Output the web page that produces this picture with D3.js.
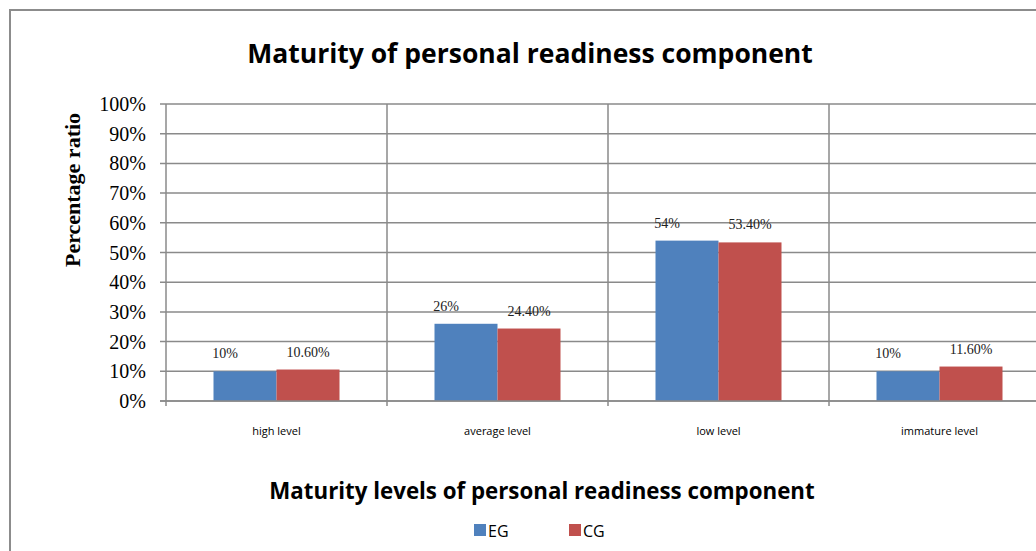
<!DOCTYPE html>
<html><head><meta charset="utf-8">
<script src="https://cdn.jsdelivr.net/npm/d3@7"></script>
<style>body{margin:0;background:#fff}svg{display:block}</style>
</head><body>
<script>
const categories = ["high level", "average level", "low level", "immature level"];
const seriesNames = ["EG", "CG"];
const egValues = [10, 26, 54, 10];
const cgValues = [10.6, 24.4, 53.4, 11.6];
const egLabels = ["10%", "26%", "54%", "10%"];
const cgLabels = ["10.60%", "24.40%", "53.40%", "11.60%"];
const yTicks = [0, 10, 20, 30, 40, 50, 60, 70, 80, 90, 100];
const colors = ["#4F81BD", "#C0504D"];

(function () {
const W = 1036, H = 551;
const svg = d3.select("body").append("svg").attr("width", W).attr("height", H);

svg.append("rect").attr("x", 10).attr("y", 10).attr("width", 1100).attr("height", 600)
  .attr("fill", "#fff").attr("stroke", "#8c8c8c").attr("stroke-width", 2);

const pLeft = 166, pTop = 104, pBottom = 401, catW = 221;
const x = d3.scaleBand().domain(categories).range([pLeft, pLeft + catW * 4]).paddingInner(0).paddingOuter(0);
const y = d3.scaleLinear().domain([0, 100]).range([pBottom, pTop]);
const xs = d3.scaleBand().domain(seriesNames).range([0, catW]).paddingInner(0).paddingOuter(0.754);

const gridColor = "#8a8a8a";
svg.append("g").selectAll("line").data(yTicks).join("line")
  .attr("x1", pLeft - 6).attr("x2", pLeft + catW * 4)
  .attr("y1", d => y(d)).attr("y2", d => y(d))
  .attr("stroke", gridColor).attr("stroke-width", 1.5);
const bounds = d3.range(categories.length + 1).map(i => pLeft + i * catW);
svg.append("g").selectAll("line").data(bounds).join("line")
  .attr("x1", d => d).attr("x2", d => d)
  .attr("y1", pTop).attr("y2", pBottom + 5)
  .attr("stroke", gridColor).attr("stroke-width", 1.5);

svg.append("g").selectAll("text").data(yTicks).join("text")
  .attr("x", 146).attr("y", d => y(d)).attr("dy", "0.35em")
  .attr("text-anchor", "end")
  .attr("font-family", "Liberation Serif, serif").attr("font-size", 20)
  .attr("fill", "#000").text(d => d + "%");

const series = [egValues, cgValues];
const labels = [egLabels, cgLabels];
series.forEach((vals, si) => {
  svg.append("g").selectAll("rect").data(categories).join("rect")
    .attr("x", (c) => x(c) + xs(seriesNames[si]))
    .attr("y", (c, i) => y(vals[i]))
    .attr("width", xs.bandwidth())
    .attr("height", (c, i) => y(0) - y(vals[i]))
    .attr("fill", colors[si]);
  svg.append("g").selectAll("text").data(categories).join("text")
    .attr("x", (c) => x(c) + xs(seriesNames[si]) + xs.bandwidth() / 2 + (si === 0 ? -20 : 0))
    .attr("y", (c, i) => y(vals[i]) - 13)
    .attr("text-anchor", "middle")
    .attr("font-family", "Liberation Serif, serif").attr("font-size", 14)
    .attr("fill", "#222").text((c, i) => labels[si][i]);
});
svg.append("line").attr("x1", pLeft - 6).attr("x2", pLeft + catW * 4)
  .attr("y1", pBottom).attr("y2", pBottom).attr("stroke", gridColor).attr("stroke-width", 1.5);

svg.append("g").selectAll("text").data(categories).join("text")
  .attr("x", c => x(c) + x.bandwidth() / 2).attr("y", 435)
  .attr("text-anchor", "middle")
  .attr("font-family", "Open Sans, sans-serif").attr("font-size", 11)
  .attr("fill", "#000").text(c => c);

svg.append("text").attr("x", 530).attr("y", 63).attr("text-anchor", "middle")
  .attr("font-family", "Open Sans, sans-serif").attr("font-weight", "bold").attr("font-size", 26.5)
  .attr("fill", "#000").text("Maturity of personal readiness component");

svg.append("text").attr("x", 542).attr("y", 499).attr("text-anchor", "middle")
  .attr("font-family", "Open Sans, sans-serif").attr("font-weight", "bold").attr("font-size", 22.3)
  .attr("fill", "#000").text("Maturity levels of personal readiness component");

svg.append("text").attr("transform", "translate(80,190) rotate(-90)")
  .attr("text-anchor", "middle")
  .attr("font-family", "Liberation Serif, serif").attr("font-weight", "bold").attr("font-size", 22)
  .attr("fill", "#000").text("Percentage ratio");

const legX = [474, 569];
seriesNames.forEach((s, i) => {
  svg.append("rect").attr("x", legX[i]).attr("y", 524).attr("width", 12).attr("height", 12).attr("fill", colors[i]);
  svg.append("text").attr("x", legX[i] + 14).attr("y", 537)
    .attr("font-family", "Open Sans, sans-serif").attr("font-size", 16)
    .attr("fill", "#000").text(s);
});
})();
</script>
</body></html>
